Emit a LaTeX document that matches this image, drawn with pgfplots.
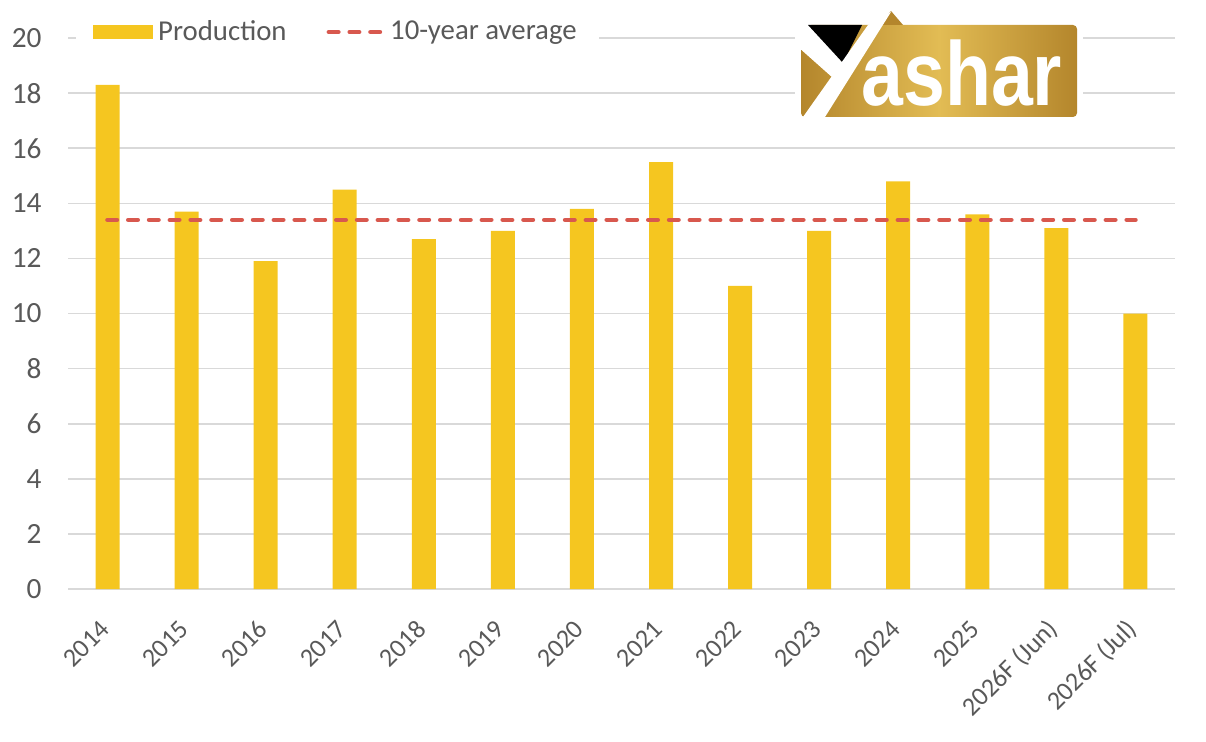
\documentclass[border=0pt]{standalone}
\usepackage{pgfplots}
\usepackage{pgfplotstable}
\pgfplotsset{compat=1.18}
\usepackage{fontspec}
\setmainfont{Carlito}
\newfontfamily\logofont{Liberation Sans}

\definecolor{barc}{RGB}{245,198,32}
\definecolor{avgc}{RGB}{216,88,78}
\definecolor{gridc}{RGB}{217,217,217}
\definecolor{txt}{RGB}{89,89,89}
\definecolor{goldA}{RGB}{180,134,44}
\definecolor{goldB}{RGB}{226,188,84}

% Annual production, last two entries are forecasts
\pgfplotstableread{
x  y
0  18.3
1  13.7
2  11.9
3  14.5
4  12.7
5  13.0
6  13.8
7  15.5
8  11.0
9  13.0
10 14.8
11 13.6
12 13.1
13 10.0
}\production

\begin{document}
\begin{tikzpicture}
\useasboundingbox (0,0) rectangle (452.25pt,278.25pt);
\begin{axis}[
  at={(25.5pt,57.375pt)}, anchor=south west,
  scale only axis, width=415.1pt, height=206.6pt,
  xmin=-0.5, xmax=13.5, ymin=0, ymax=20,
  ytick={0,2,...,20},
  xtick={0,...,13},
  xticklabels={2014,2015,2016,2017,2018,2019,2020,2021,2022,2023,2024,2025,2026F (Jun),2026F (Jul)},
  ymajorgrids, grid style={gridc, line width=0.6pt},
  axis line style={draw=none},
  major tick length=0pt,
  /pgf/number format/assume math mode=true,
  tick label style={text=txt},
  yticklabel style={font=\fontsize{11}{13}\selectfont, xshift=-6.4pt},
  xticklabel style={font=\fontsize{9.8}{12}\selectfont, xshift=1.5pt, yshift=-11pt, rotate=45, anchor=east},
  legend columns=2,
  legend style={at={(0.0063,1.011)}, anchor=west, draw=none, fill=white,
    inner xsep=6.5pt, inner ysep=1pt,
    font=\fontsize{10.8}{12}\selectfont, text=txt,
    /tikz/every even column/.append style={column sep=13pt}},
]
\addplot[ybar, bar width=9pt, fill=barc, draw=none,
  legend image code/.code={\fill[barc] (0pt,-2.6pt) rectangle (22.5pt,2.6pt);}]
  table[x=x, y=y] {\production};
\addlegendentry{Production}
\addplot[avgc, line width=1.75pt, line cap=round, dash pattern=on 3.5pt off 4.3pt,
  legend image code/.code={\draw[avgc, line width=1.75pt, line cap=round, dash pattern=on 3.5pt off 4.3pt] (0.9pt,0pt) -- (20pt,0pt);}]
  coordinates {(0,13.4) (13,13.4)};
\addlegendentry{\hspace{1pt}10-year average}
\end{axis}

% Yashar logo
\begin{scope}[shift={(0pt,278.25pt)}, x=0.375pt, y=-0.375pt]
  \fill[white] (795,6) rectangle (1083,122);
  \shade[rounded corners=1.5pt, left color=goldA, right color=goldA, middle color=goldB]
    (801,25) rectangle (1077,117);
  \fill[goldA] (879,25) -- (891,11) -- (903,25) -- cycle;
  \fill[white] (797,22) -- (809,22) -- (843,63) -- (846,70) -- (833,78) -- (797,46) -- cycle;
  \fill[black] (808,25) -- (862,25) -- (843,63) -- cycle;
  \fill[white] (803,117) -- (825,117) -- (891,12) -- (868,25) -- cycle;
  \node[anchor=base west, inner sep=0pt, text=white, xscale=0.83,
    font=\logofont\bfseries\fontsize{34}{34}\selectfont] at (861,106) {ashar};
\end{scope}
\end{tikzpicture}
\end{document}
